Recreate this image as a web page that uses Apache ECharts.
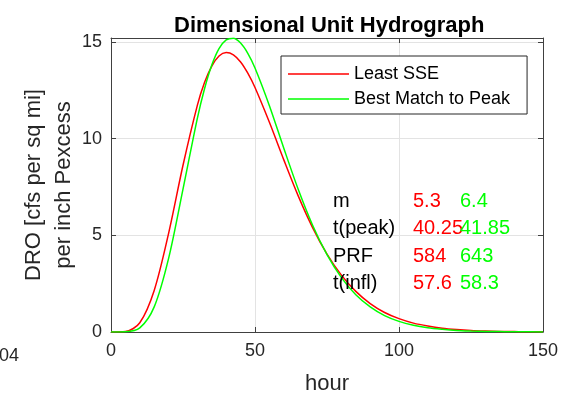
<!DOCTYPE html>
<html>
<head>
<meta charset="utf-8">
<script src="https://cdn.jsdelivr.net/npm/echarts@6/dist/echarts.min.js"></script>
<style>
  html, body { margin:0; padding:0; background:#fff; }
  #uh { width:572px; height:400px; }
</style>
</head>
<body>
<div id="uh"></div>
<script>
// hours sampled along the curves (denser around the peak)
var hours = [0,5,10,15,20,25,30,32.5,35,37.5,40,42.5,45,47.5,50,55,60,65,70,75,80,85,90,95,100,105,110,115,120,125,130,135,140,145,150];
// Least SSE (red)
var leastSSE = [0,0.02,0.48,2.15,5.10,8.62,11.73,12.91,13.75,14.27,14.45,14.33,13.96,13.38,12.64,10.84,8.90,7.04,5.40,4.03,2.94,2.10,1.47,1.01,0.69,0.46,0.31,0.20,0.13,0.08,0.05,0.03,0.02,0.01,0.01];
// Best Match to Peak (green)
var bestPeak = [0,0.01,0.21,1.30,3.81,7.39,11.06,12.59,13.80,14.65,15.10,15.19,14.94,14.41,13.65,11.70,9.50,7.38,5.52,4.00,2.81,1.93,1.30,0.85,0.55,0.35,0.22,0.14,0.08,0.05,0.03,0.02,0.01,0.01,0];
var xTicks = [0,50,100,150];
var yTicks = [0,5,10,15];
var paramNames = ['m','t(peak)','PRF','t(infl)'];
var redVals = ['5.3','40.25','584','57.6'];
var greenVals = ['6.4','41.85','643','58.3'];

var font = "'Liberation Sans', Arial, Helvetica, sans-serif";
var axisCol = '#404040';

function pairs(xs, ys){
  var out = [];
  for (var i = 0; i < xs.length; i++) out.push([xs[i], ys[i]]);
  return out;
}

var chart = echarts.init(document.getElementById('uh'));

var graphics = [];
var rowY = [202, 229, 257, 284];
for (var i = 0; i < paramNames.length; i++) {
  graphics.push({type:'text', left:333, top:rowY[i]-11, style:{text:paramNames[i], font:'20px '+font, fill:'#000'}, z:50});
  graphics.push({type:'text', left:413, top:rowY[i]-11, style:{text:redVals[i], font:'20px '+font, fill:'#ff0000'}, z:50});
  graphics.push({type:'text', left:460, top:rowY[i]-11, style:{text:greenVals[i], font:'20px '+font, fill:'#00ff00'}, z:51});
}
// clipped label at the left edge
graphics.push({type:'text', left:-1, top:347, style:{text:'04', font:'18px '+font, fill:'#262626'}});

var option = {
  animation:false,
  title:{
    text:'Dimensional Unit Hydrograph',
    left:169, top:10,
    textStyle:{fontFamily:font, fontSize:22, fontWeight:'bold', color:'#000'}
  },
  legend:{
    orient:'vertical',
    left:281, top:56,
    padding:[8,17,5,7],
    icon:'rect',
    itemWidth:61, itemHeight:1.5, itemGap:5,
    borderColor:'#262626', borderWidth:1,
    backgroundColor:'#fff',
    textStyle:{fontFamily:font, fontSize:18, color:'#000', lineHeight:20},
    data:['Least SSE','Best Match to Peak']
  },
  grid:{left:111, right:29, top:38, bottom:64},
  xAxis:[{
    type:'value', min:0, max:150, interval:50,
    name:'hour', nameLocation:'middle', nameGap:41, nameMoveOverlap:false,
    nameTextStyle:{fontFamily:font, fontSize:22, color:'#262626'},
    axisLine:{lineStyle:{color:axisCol, width:1}},
    axisTick:{inside:true, length:5, lineStyle:{color:axisCol}},
    axisLabel:{fontFamily:font, fontSize:18, color:'#262626', margin:10,
      formatter:function(v){ return xTicks.indexOf(v) >= 0 ? String(v) : ''; }},
    splitLine:{show:true, lineStyle:{color:'#e3e3e3', width:1}}
  },{
    type:'value', min:0, max:150, interval:50, position:'top',
    axisLine:{show:true, onZero:false, lineStyle:{color:axisCol, width:1}},
    axisTick:{inside:true, length:5, lineStyle:{color:axisCol}},
    axisLabel:{show:false}, splitLine:{show:false}
  }],
  yAxis:[{
    type:'value', min:0, max:15.2, interval:5,
    name:'DRO [cfs per sq mi]\nper inch Pexcess', nameLocation:'middle', nameGap:32, nameMoveOverlap:false,
    nameTextStyle:{fontFamily:font, fontSize:22, color:'#262626', lineHeight:30},
    axisLine:{show:true, lineStyle:{color:axisCol, width:1}},
    axisTick:{show:true, inside:true, length:5, lineStyle:{color:axisCol}},
    axisLabel:{fontFamily:font, fontSize:18, color:'#262626', margin:9,
      formatter:function(v){ return yTicks.indexOf(v) >= 0 ? String(v) : ''; }},
    splitLine:{show:true, lineStyle:{color:'#e3e3e3', width:1}}
  },{
    type:'value', min:0, max:15.2, interval:5, position:'right',
    axisLine:{show:true, onZero:false, lineStyle:{color:axisCol, width:1}},
    axisTick:{show:true, inside:true, length:5, lineStyle:{color:axisCol}},
    axisLabel:{show:false}, splitLine:{show:false}
  }],
  series:[{
    name:'Least SSE', type:'line', smooth:0.3, symbol:'none',
    lineStyle:{color:'#ff0000', width:1.5}, itemStyle:{color:'#ff0000'},
    data:pairs(hours, leastSSE), z:3
  },{
    name:'Best Match to Peak', type:'line', smooth:0.3, symbol:'none',
    lineStyle:{color:'#00ff00', width:1.5}, itemStyle:{color:'#00ff00'},
    data:pairs(hours, bestPeak), z:4
  }],
  graphic:graphics
};
chart.setOption(option);
</script>
</body>
</html>
